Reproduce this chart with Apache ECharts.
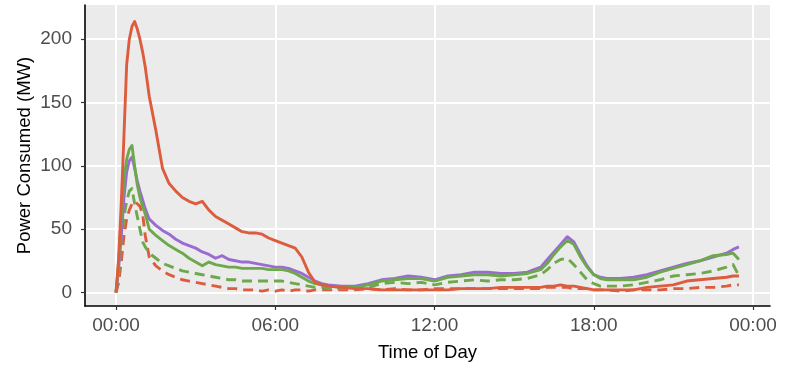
<!DOCTYPE html>
<html>
<head>
<meta charset="utf-8">
<script src="https://cdn.jsdelivr.net/npm/echarts@6/dist/echarts.min.js"></script>
<style>
  html, body { margin: 0; padding: 0; background: #ffffff; }
  #chart { width: 788px; height: 365px; }
</style>
</head>
<body>
<div id="chart"></div>
<script>
// Sample times, in hours after midnight
const hours = [
  0, 0.1, 0.2, 0.3, 0.4, 0.5, 0.6, 0.7, 0.8, 0.9, 1.0, 1.1,
  1.25, 1.5, 1.75, 2.0, 2.25, 2.5, 2.75, 3.0, 3.25, 3.5, 3.75, 4.0,
  4.25, 4.5, 4.75, 5.0, 5.25, 5.5, 5.75, 6.0, 6.25, 6.5, 6.75, 7.0,
  7.25, 7.5, 7.75, 8.0,
  8.5, 9.0, 9.5, 10.0, 10.5, 11.0, 11.5, 12.0, 12.5, 13.0, 13.5, 14.0,
  14.5, 15.0, 15.5, 16.0,
  16.25, 16.5, 16.75, 17.0, 17.25, 17.5, 17.75, 18.0, 18.25, 18.5,
  19.0, 19.5, 20.0, 20.5, 21.0, 21.5, 22.0, 22.5, 23.0, 23.25, 23.47
];

// Power consumed (MW) per scenario
const redSolid = [
  0, 28, 72, 125, 180, 200, 210, 214, 208, 200, 190, 178,
  155, 128, 98, 86, 80, 75, 72, 70, 72, 65, 60, 57,
  54, 51, 48, 47, 47, 46, 43, 41, 39, 37, 35, 28,
  16, 8, 6, 5,
  4, 3, 3, 2, 2, 2, 2, 2, 2, 3, 3, 3,
  4, 4, 4, 4,
  5, 5, 6, 5, 5, 4, 3, 2, 2, 2,
  2, 2, 4, 5, 6, 9, 10, 11, 12, 13, 13
];
const redDashed = [
  0, 8, 25, 45, 58, 65, 70, 72, 70, 68, 62, 45,
  28, 21, 17, 14, 12, 10, 9, 8, 7, 6, 5, 4,
  3, 3, 2, 2, 2, 1, 2, 1, 2, 1, 2, 2,
  1, 2, 2, 2,
  2, 2, 3, 2, 3, 2, 2, 3, 3, 3, 3, 3,
  3, 3, 3, 3,
  4, 4, 4, 4, 3, 3, 3, 2, 2, 2,
  1, 2, 2, 2, 3, 3, 4, 4, 5, 6, 6
];
const greenSolid = [
  0, 25, 60, 90, 105, 113, 116, 100, 85, 75, 68, 62,
  50, 45, 41, 37, 34, 31, 27, 24, 21, 24, 22, 21,
  20, 20, 19, 19, 19, 19, 18, 18, 18, 17, 15, 12,
  9, 7, 6, 5,
  4, 4, 6, 9, 10, 11, 11, 9, 12, 13, 14, 14,
  13, 14, 15, 18,
  23, 30, 36, 41, 38, 28, 20, 14, 11, 10,
  10, 10, 12, 16, 19, 22, 25, 29, 30, 31, 26
];
const greenDashed = [
  0, 15, 40, 60, 72, 80, 82, 70, 60, 50, 40, 36,
  31, 27, 23, 21, 19, 17, 16, 15, 14, 13, 12, 11,
  10, 10, 9, 9, 9, 9, 9, 9, 9, 8, 7, 6,
  5, 4, 4, 3,
  3, 3, 4, 7, 8, 7, 8, 6, 8, 9, 10, 9,
  10, 10, 11, 14,
  18, 23, 26, 27, 22, 16, 10, 7, 5, 5,
  5, 6, 8, 10, 13, 14, 15, 17, 20, 22, 13
];
const purpleSolid = [
  0, 20, 45, 75, 95, 104, 107, 98, 88, 80, 73, 66,
  58, 53, 49, 46, 42, 39, 37, 35, 32, 30, 27, 29,
  26, 25, 24, 24, 23, 22, 21, 20, 20, 19, 17, 15,
  12, 9, 7, 6,
  5, 5, 7, 10, 11, 13, 12, 10, 13, 14, 16, 16,
  15, 15, 16, 20,
  26, 32, 38, 44, 40, 30, 21, 14, 12, 11,
  11, 12, 14, 17, 20, 23, 25, 28, 31, 34, 36
];

// Axis ticks
const xTicks = [0, 6, 12, 18, 24];
const xTickLabels = ['00:00', '06:00', '12:00', '18:00', '00:00'];
const yTicks = [0, 50, 100, 150, 200];

const RED = '#DD5C3E';
const GREEN = '#6DA84C';
const PURPLE = '#9A6CD2';

function pairs(values) {
  return hours.map((h, i) => [h, values[i]]);
}

function lineSeries(name, values, color, dashed) {
  return {
    name: name,
    type: 'line',
    data: pairs(values),
    showSymbol: false,
    symbol: 'none',
    lineStyle: { color: color, width: 2.9, type: dashed ? [10, 6] : 'solid', cap: 'butt', join: 'round' },
    itemStyle: { color: color },
    emphasis: { disabled: true }
  };
}

const FONT = 'Liberation Sans';

const chart = echarts.init(document.getElementById('chart'), null, { renderer: 'canvas' });
chart.setOption({
  animation: false,
  backgroundColor: '#ffffff',
  grid: {
    left: 85, right: 18, top: 5, bottom: 59,
    containLabel: false,
    outerBoundsMode: 'none',
    show: true, backgroundColor: '#EBEBEB', borderWidth: 0
  },
  xAxis: {
    type: 'value',
    min: -1.17, max: 24.64,
    name: 'Time of Day',
    nameLocation: 'middle',
    nameGap: 37,
    nameMoveOverlap: false,
    nameTextStyle: { fontFamily: FONT, fontSize: 18.5, color: '#000000' },
    axisLine: { show: true, onZero: false, lineStyle: { color: '#000000', width: 1.6 } },
    axisTick: { show: true, customValues: xTicks, length: 4, lineStyle: { color: '#333333', width: 1.2 } },
    axisLabel: {
      customValues: xTicks,
      margin: 10,
      fontFamily: FONT, fontSize: 19, color: '#4D4D4D',
      formatter: v => xTickLabels[xTicks.indexOf(v)]
    },
    splitLine: { show: true, lineStyle: { color: '#FFFFFF', width: 2 } }
  },
  yAxis: {
    type: 'value',
    min: -10.7, max: 227,
    name: 'Power Consumed (MW)',
    nameLocation: 'middle',
    nameGap: 51,
    nameRotate: 90,
    nameMoveOverlap: false,
    nameTextStyle: { fontFamily: FONT, fontSize: 18.5, color: '#000000' },
    axisLine: { show: true, onZero: false, lineStyle: { color: '#000000', width: 1.6 } },
    axisTick: { show: true, customValues: yTicks, length: 4, lineStyle: { color: '#333333', width: 1.2 } },
    axisLabel: {
      customValues: yTicks,
      margin: 13,
      fontFamily: FONT, fontSize: 19, color: '#4D4D4D'
    },
    splitLine: { show: true, lineStyle: { color: '#FFFFFF', width: 2 } }
  },
  series: [
    lineSeries('Red dashed', redDashed, RED, true),
    lineSeries('Green dashed', greenDashed, GREEN, true),
    lineSeries('Purple', purpleSolid, PURPLE, false),
    lineSeries('Green', greenSolid, GREEN, false),
    lineSeries('Red', redSolid, RED, false)
  ]
});
</script>
</body>
</html>
